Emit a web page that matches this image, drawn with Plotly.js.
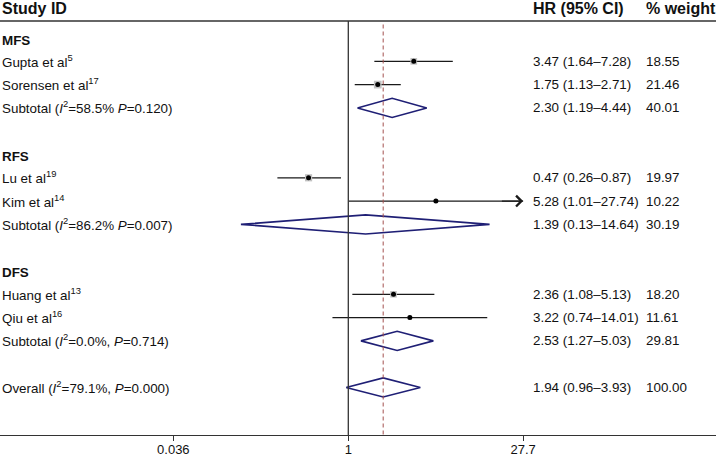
<!DOCTYPE html>
<html>
<head>
<meta charset="utf-8">
<script src="https://cdn.plot.ly/plotly-3.0.1.min.js"></script>
<style>html,body{margin:0;padding:0;background:#fff;}#chart{width:716px;height:456px;}</style>
</head>
<body>
<div id="chart"></div>
<script>
// ---------- data ----------
var groups = ['MFS', 'RFS', 'DFS'];
var studyNames = ['Gupta et al<sup>5</sup>', 'Sorensen et al<sup>17</sup>', 'Lu et al<sup>19</sup>', 'Kim et al<sup>14</sup>', 'Huang et al<sup>13</sup>', 'Qiu et al<sup>16</sup>'];
var studyGroup = ['MFS', 'MFS', 'RFS', 'RFS', 'DFS', 'DFS'];
var studyHR = [3.47, 1.75, 0.47, 5.28, 2.36, 3.22];
var studyLo = [1.64, 1.13, 0.26, 1.01, 1.08, 0.74];
var studyHi = [7.28, 2.71, 0.87, 27.74, 5.13, 14.01];
var studyWeight = [18.55, 21.46, 19.97, 10.22, 18.20, 11.61];

var subLabels = ['Subtotal (<i>I</i><sup>2</sup>=58.5% <i>P</i>=0.120)', 'Subtotal (<i>I</i><sup>2</sup>=86.2% <i>P</i>=0.007)', 'Subtotal (<i>I</i><sup>2</sup>=0.0%, <i>P</i>=0.714)'];
var subHR = [2.30, 1.39, 2.53];
var subLo = [1.19, 0.13, 1.27];
var subHi = [4.44, 14.64, 5.03];
var subWeight = [40.01, 30.19, 29.81];

var overallLabel = 'Overall (<i>I</i><sup>2</sup>=79.1%, <i>P</i>=0.000)';
var overallHR = 1.94, overallLo = 0.96, overallHi = 3.93, overallWeight = 100.00;

var tickVals = [0.036, 1, 27.7];
var tickText = ['0.036', '1', '27.7'];
var headers = ['Study ID', 'HR (95% CI)', '% weight'];

// ---------- layout helpers ----------
var FONT = 'Arial, "Liberation Sans", sans-serif';
var xMaxCI = tickVals[tickVals.length - 1];
var HRCOL = 531 / 716, WCOL = 644 / 716;
var traces = [], annotations = [], shapes = [];

function ciText(h, l, u) { return h.toFixed(2) + ' (' + l.toFixed(2) + '\u2013' + u.toFixed(2) + ')'; }
function rowText(txt, y, opts) {
  opts = opts || {};
  annotations.push({xref: 'paper', yref: 'y', x: opts.x || 0, y: y, text: txt, showarrow: false,
    xanchor: 'left', yanchor: 'middle', yshift: opts.yshift || 0,
    font: {family: FONT, size: opts.size || 13.4, color: '#111'}});
}
function diamond(h, l, u, y) {
  traces.push({type: 'scatter', mode: 'lines', x: [l, h, u, h, l], y: [y, y - 0.41, y, y + 0.41, y],
    line: {color: '#1f1f75', width: 1.6}, hoverinfo: 'skip'});
}

var row = 1;
groups.forEach(function (g, gi) {
  rowText('<b>' + g + '</b>', row, {yshift: -2});
  row++;
  studyNames.forEach(function (n, i) {
    if (studyGroup[i] !== g) return;
    var hi = Math.min(studyHi[i], xMaxCI);
    traces.push({type: 'scatter', mode: 'lines', x: [studyLo[i], hi], y: [row, row],
      line: {color: '#1a1a1a', width: 1.3}, hoverinfo: 'skip'});
    if (studyHi[i] > xMaxCI) {
      annotations.push({xref: 'x', yref: 'y', axref: 'x', ayref: 'y', x: Math.log10(xMaxCI), y: row,
        ax: Math.log10(xMaxCI) - 0.2, ay: row, showarrow: true, arrowhead: 4, arrowsize: 1.6,
        arrowwidth: 1.3, arrowcolor: '#1a1a1a', text: ' ', standoff: 0});
    }
    traces.push({type: 'scatter', mode: 'markers', x: [studyHR[i]], y: [row],
      marker: {symbol: 'square', size: studyWeight[i] * 0.36, color: '#c2c2c2', line: {width: 0}}, hoverinfo: 'skip'});
    traces.push({type: 'scatter', mode: 'markers', x: [studyHR[i]], y: [row],
      marker: {symbol: 'circle', size: 5, color: '#000'}, hoverinfo: 'skip'});
    rowText(n, row);
    rowText(ciText(studyHR[i], studyLo[i], studyHi[i]), row, {x: HRCOL});
    rowText(studyWeight[i].toFixed(2), row, {x: WCOL});
    row++;
  });
  diamond(subHR[gi], subLo[gi], subHi[gi], row);
  rowText(subLabels[gi], row);
  rowText(ciText(subHR[gi], subLo[gi], subHi[gi]), row, {x: HRCOL});
  rowText(subWeight[gi].toFixed(2), row, {x: WCOL});
  row += 2;
});
diamond(overallHR, overallLo, overallHi, row);
rowText(overallLabel, row);
rowText(ciText(overallHR, overallLo, overallHi), row, {x: HRCOL});
rowText(overallWeight.toFixed(2), row, {x: WCOL});

// headers
[0, HRCOL, WCOL].forEach(function (xp, i) {
  annotations.push({xref: 'paper', yref: 'paper', x: xp, y: 1.029, text: '<b>' + headers[i] + '</b>',
    showarrow: false, xanchor: 'left', yanchor: 'middle',
    font: {family: FONT, size: 16, color: '#111'}});
});

// lines
shapes.push({type: 'line', xref: 'paper', yref: 'paper', x0: 0, x1: 1, y0: 1, y1: 1, line: {color: '#333', width: 1.3}});
shapes.push({type: 'line', xref: 'x', yref: 'paper', x0: 1, x1: 1, y0: 0, y1: 1, line: {color: '#333', width: 1.3}});
shapes.push({type: 'line', xref: 'x', yref: 'y', x0: overallHR, x1: overallHR, y0: 0.42, y1: 18.04,
  line: {color: '#a4504f', width: 1, dash: '4px,3px'}});

var pxPerDec = 121.2, onePx = 348.3;
var layout = {
  width: 716, height: 456,
  margin: {l: 0, r: 0, t: 21, b: 21, pad: 0},
  paper_bgcolor: '#fff', plot_bgcolor: '#fff',
  showlegend: false,
  xaxis: {type: 'log', range: [-onePx / pxPerDec, (716 - onePx) / pxPerDec],
    tickvals: tickVals, ticktext: tickText, ticks: 'outside', ticklen: 5, tickwidth: 1.2, tickcolor: '#333',
    ticklabelstandoff: -3,
    showline: true, linecolor: '#333', linewidth: 1.3, showgrid: false, zeroline: false,
    tickfont: {family: FONT, size: 13, color: '#111'}, fixedrange: true},
  yaxis: {range: [18.04, 0.27], visible: false, showgrid: false, zeroline: false, fixedrange: true},
  annotations: annotations,
  shapes: shapes
};
Plotly.newPlot('chart', traces, layout, {displayModeBar: false, staticPlot: true});
</script>
</body>
</html>
